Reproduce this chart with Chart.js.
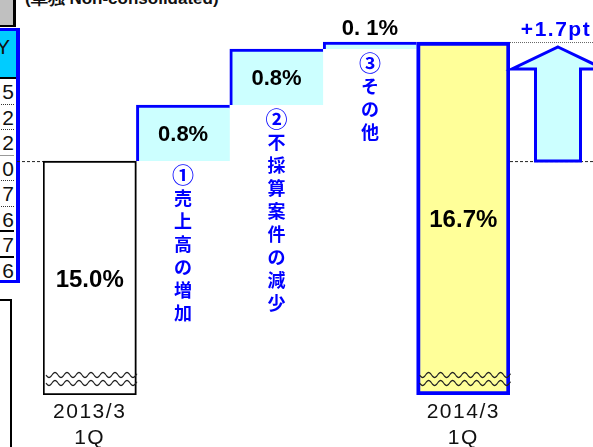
<!DOCTYPE html>
<html>
<head>
<meta charset="utf-8">
<script src="https://cdn.jsdelivr.net/npm/chart.js@4"></script>
<style>
  html, body { margin: 0; padding: 0; background: #fff; overflow: hidden; }
  #wrap { position: relative; width: 593px; height: 447px; overflow: hidden; }
  #chart { position: absolute; left: 0; top: 0; }
  .title { position: absolute; left: 25px; top: -13px; font: bold 17px "Liberation Sans", Arial, sans-serif; color: #111; white-space: nowrap; }
  .gray { position: absolute; left: 0; top: 0; width: 13px; height: 25px; background: #c0c0c0; border-right: 3px solid #000; border-bottom: 2px solid #000; }
  .tbl { position: absolute; left: -4px; top: 28px; width: 17px; height: 249px; border: 3px solid #00f; border-right-width: 4px; }
  .head { position: absolute; left: 0; top: 0; width: 17px; height: 46px; background: #00ccff; border-bottom: 2px solid #000; overflow: hidden; }
  .head span { position: absolute; left: -3px; top: 4px; font: 21px "Liberation Sans", Arial, sans-serif; color: #111; }
  .row { position: absolute; left: 0; width: 15px; height: 25.5px; text-align: right; font: 21px "Liberation Sans", Arial, sans-serif;
         line-height: 25px; color: #111; box-sizing: border-box; }
  .box { position: absolute; left: -2px; top: 299px; width: 10px; height: 200px; border: 2px solid #000; }
</style>
</head>
<body>
<div id="wrap">
  <div class="title">(単独 Non-consolidated)</div>
  <div class="gray"></div>
  <div class="tbl" id="tbl"><div class="head"><span>Y</span></div></div>
  <div class="box"></div>
  <canvas id="chart" width="593" height="447"></canvas>
</div>
<script>
// waterfall: 2013/3 1Q -> three factors -> 2014/3 1Q
const categories = [['2013/3', '1Q'], '', '', '', ['2014/3', '1Q']];
const startValue = 15.0;
const stepValues = [0.8, 0.8, 0.1];
const endValue = 16.7;
const valueLabels = ['15.0%', '0.8%', '0.8%', '0. 1%', '16.7%'];
const stepNotes = ['①売上高の増加', '②不採算案件の減少', '③その他'];
const changeLabel = '+1.7pt';
// the total bars are cut off (wavy marks), so the axis does not start at 0
const axisFloor = 11.66;
const axisCeil = 17.3;

// cropped table at the left edge
const tableDigits = ['5', '2', '2', '0', '7', '6', '7', '6'];
const tableRules = ['1px dotted #333', '1px dotted #333', '1px solid #999', '1px dotted #333', '1px dotted #333', '2px solid #000', '2px solid #000', 'none'];

const tbl = document.getElementById('tbl');
tableDigits.forEach((d, i) => {
  const row = document.createElement('div');
  row.className = 'row';
  row.style.top = (48 + i * 25.5) + 'px';
  row.style.borderBottom = tableRules[i];
  row.textContent = d;
  tbl.appendChild(row);
});

const BLUE = '#0000ff';
const CYAN = '#ccffff';
const LATIN = '"Liberation Sans", Arial, sans-serif';

const floating = [[axisFloor, startValue]];
let level = startValue;
stepValues.forEach((v) => {
  floating.push([level, level + v]);
  level += v;
});
floating.push([axisFloor, endValue]);

const stepBorder = { left: 3, top: 3, right: 0, bottom: 0 };

function drawWave(ctx, x0, x1, y) {
  ctx.beginPath();
  for (let x = x0; x <= x1; x += 1) {
    const yy = y + 2.5 * Math.sin(((x - x0) / 12) * Math.PI * 2);
    if (x === x0) ctx.moveTo(x, yy); else ctx.lineTo(x, yy);
  }
  ctx.stroke();
}

const decor = {
  id: 'decor',
  beforeDraw(chart) {
    // spacing only for the category tick labels
    chart.ctx.letterSpacing = '1.5px';
  },
  beforeDatasetsDraw(chart) {
    chart.ctx.letterSpacing = '0px';
  },
  afterDatasetsDraw(chart) {
    const { ctx, chartArea, scales: { y } } = chart;
    const bars = chart.getDatasetMeta(0).data;
    const W = chart.width;
    ctx.save();

    // wavy break marks on the two totals
    ctx.strokeStyle = '#222';
    ctx.lineWidth = 1.2;
    [0, 4].forEach((i) => {
      const b = bars[i];
      const x0 = b.x - b.width / 2 + 3;
      const x1 = b.x + b.width / 2 + 1;
      drawWave(ctx, x0, x1, chartArea.bottom - 20);
      drawWave(ctx, x0, x1, chartArea.bottom - 12);
    });

    // reference lines
    const yStart = y.getPixelForValue(startValue);
    const yEnd = y.getPixelForValue(endValue);
    ctx.strokeStyle = '#222';
    ctx.lineWidth = 1;
    ctx.setLineDash([3, 2]);
    ctx.beginPath();
    ctx.moveTo(17, yStart + 0.5); ctx.lineTo(chartArea.left, yStart + 0.5);
    ctx.moveTo(chartArea.right, yStart + 0.5); ctx.lineTo(W, yStart + 0.5);
    ctx.stroke();
    ctx.strokeStyle = '#666';
    ctx.setLineDash([1, 1]);
    ctx.beginPath();
    ctx.moveTo(chartArea.right, yEnd + 0.5); ctx.lineTo(W, yEnd + 0.5);
    ctx.stroke();
    ctx.setLineDash([]);

    // up arrow for the total change
    const cx = chartArea.right + 48;
    const tip = yEnd + 5;
    const neck = tip + 22;
    ctx.beginPath();
    ctx.moveTo(cx, tip);
    ctx.lineTo(cx + 46, neck);
    ctx.lineTo(cx + 22.5, neck);
    ctx.lineTo(cx + 22.5, yStart);
    ctx.lineTo(cx - 22.5, yStart);
    ctx.lineTo(cx - 22.5, neck);
    ctx.lineTo(cx - 46, neck);
    ctx.closePath();
    ctx.fillStyle = CYAN;
    ctx.fill();
    ctx.strokeStyle = BLUE;
    ctx.lineWidth = 3;
    ctx.lineJoin = 'miter';
    ctx.stroke();

    ctx.fillStyle = BLUE;
    ctx.font = 'bold 21px ' + LATIN;
    ctx.textAlign = 'center';
    ctx.textBaseline = 'alphabetic';
    ctx.letterSpacing = '1.5px';
    ctx.fillText(changeLabel, cx - 2, yEnd - 6);
    ctx.letterSpacing = '0px';

    // value labels
    ctx.fillStyle = '#000';
    ctx.textBaseline = 'middle';
    bars.forEach((b, i) => {
      const big = i === 0 || i === bars.length - 1;
      ctx.font = (big ? 'bold 24px ' : 'bold 22px ') + LATIN;
      let ty = (b.y + b.base) / 2 + 2;
      if (i === 3) ty = b.y - 13;
      ctx.fillText(valueLabels[i], b.x, ty);
    });

    // vertical factor notes under each step
    ctx.fillStyle = BLUE;
    stepNotes.forEach((note, k) => {
      const b = bars[k + 1];
      Array.from(note).forEach((ch, j) => {
        const circled = j === 0;
        ctx.font = (circled ? 'bold 22px ' : 'bold 18px ') + '"Noto Sans CJK JP", sans-serif';
        ctx.fillText(ch, b.x, b.base + 14 + j * 23);
      });
    });
    ctx.restore();
  },
};

new Chart(document.getElementById('chart'), {
  type: 'bar',
  data: {
    labels: categories,
    datasets: [{
      data: floating,
      backgroundColor: ['#ffffff', CYAN, CYAN, CYAN, '#ffff99'],
      borderColor: ['#000000', BLUE, BLUE, BLUE, BLUE],
      borderWidth: [{ left: 2, right: 2, top: 2, bottom: 2 }, stepBorder, stepBorder, stepBorder, 4],
      borderSkipped: false,
      categoryPercentage: 1,
      barPercentage: 1,
    }],
  },
  options: {
    responsive: false,
    animation: false,
    layout: { padding: { left: 43, right: 83, top: 0, bottom: 0 } },
    plugins: { legend: { display: false }, tooltip: { enabled: false } },
    scales: {
      x: {
        grid: { display: false, drawTicks: false },
        border: { display: false },
        ticks: {
          color: '#111',
          padding: 4,
          maxRotation: 0,
          autoSkip: false,
          font: { family: LATIN, size: 21, lineHeight: 1.25 },
        },
        afterFit(axis) { axis.height = 52; },
      },
      y: { display: false, min: axisFloor, max: axisCeil },
    },
  },
  plugins: [decor],
});
</script>
</body>
</html>
